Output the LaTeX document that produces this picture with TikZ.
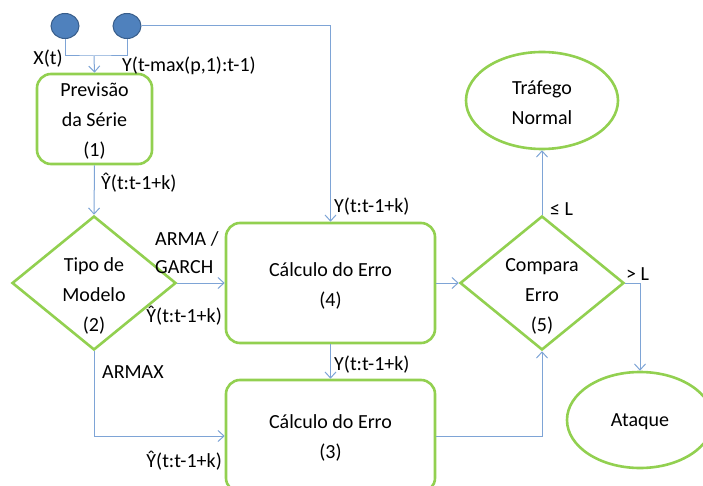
\documentclass[tikz,border=0pt]{standalone}
\usepackage{fontspec}
\setmainfont{Carlito}
\usetikzlibrary{arrows.meta,shapes.geometric}
\definecolor{grn}{RGB}{146,208,80}
\definecolor{lnk}{RGB}{126,164,214}
\definecolor{cfill}{RGB}{79,129,189}
\definecolor{cdraw}{RGB}{56,93,138}
\tikzset{
  txt/.style={font=\fontsize{20}{30}\selectfont, align=center, inner sep=0pt},
  lbl/.style={font=\fontsize{20}{24}\selectfont, inner sep=0pt},
  box/.style={draw=grn, line width=2.6pt, rounded corners=14pt, rectangle, inner sep=0pt},
  dia/.style={draw=grn, line width=2.6pt, diamond, inner sep=0pt},
  ell/.style={draw=grn, line width=2.6pt, ellipse, inner sep=0pt},
  src/.style={draw=cdraw, fill=cfill, line width=1pt, ellipse, minimum width=28pt, minimum height=25pt, inner sep=0pt},
  conn/.style={draw=lnk, line width=1pt},
  arr/.style={conn, -{Straight Barb[length=6pt,width=11pt,line width=1pt]}}
}
\begin{document}
\begin{tikzpicture}[x=1pt,y=-1pt]
\useasboundingbox (0,0) rectangle (703,486);
% sources
\node[src] (c1) at (65,26) {};
\node[src] (c2) at (127,26) {};
% boxes
\node[box, minimum width=115pt, minimum height=90pt] (b1) at (94.5,119) {};
\node[txt] (b1t) at (94.5,121) {Previsão\\da Série\\(1)};
\node[dia, minimum width=164pt, minimum height=134pt] (d2) at (94,283) {};
\node[txt] (d2t) at (94,296) {Tipo de\\Modelo\\(2)};
\node[box, minimum width=209pt, minimum height=120pt] (b4) at (330.5,283) {};
\node[txt] (b4t) at (330.5,286) {Cálculo do Erro\\(4)};
\node[box, minimum width=209pt, minimum height=112pt] (b3) at (330.5,436) {};
\node[txt] (b3t) at (330.5,438) {Cálculo do Erro\\(3)};
\node[dia, minimum width=164pt, minimum height=134pt] (d5) at (542,283) {};
\node[txt] (d5t) at (542,296) {Compara\\Erro\\(5)};
\node[ell, minimum width=152pt, minimum height=97pt] (e1) at (542,100.5) {};
\node[txt] (e1t) at (542,103) {Tráfego\\Normal};
\node[ell, minimum width=146pt, minimum height=96pt] (e2) at (640,420) {};
\node[txt] (e2t) at (640,422) {Ataque};
% connectors
\coordinate (j) at (94,56);
\draw[conn] (c1.south) |- (j) -| (c2.south);
\draw[arr] (j) -- (b1.north);
\draw[arr] (c2.east) -| (b4.north);
\draw[arr] (b1.south) -- (d2.north);
\draw[arr] (d2.east) -- (b4.west);
\draw[arr] (d2.south) |- (b3.west);
\draw[arr] (b4.south) -- (b3.north);
\draw[arr] (b4.east) -- (d5.west);
\draw[arr] (b3.east) -| (d5.south);
\draw[arr] (d5.north) -- (e1.south);
\draw[arr] (d5.east) -| (e2.north);
% labels
\node[lbl, anchor=base] (l1) at (48,65) {X(t)};
\node[lbl, anchor=base west] (l2) at (122,72) {Y(t-max(p,1):t-1)};
\node[lbl, anchor=base west] (l3) at (101,190) {Ŷ(t:t-1+k)};
\node[lbl, anchor=base west] (l4) at (334,212) {Y(t:t-1+k)};
\node[lbl, anchor=base west] (l5) at (155,245) {ARMA /};
\node[lbl, anchor=base west] (l6) at (155,273) {GARCH};
\node[lbl, anchor=base east] (l7) at (222,322) {Ŷ(t:t-1+k)};
\node[lbl, anchor=base west] (l8) at (102,378) {ARMAX};
\node[lbl, anchor=base west] (l9) at (334,370) {Y(t:t-1+k)};
\node[lbl, anchor=base east] (l10) at (222,467) {Ŷ(t:t-1+k)};
\node[lbl, anchor=base west] (l11) at (550,215) {≤ L};
\node[lbl, anchor=base west] (l12) at (626,280) {> L};
\end{tikzpicture}
\end{document}
